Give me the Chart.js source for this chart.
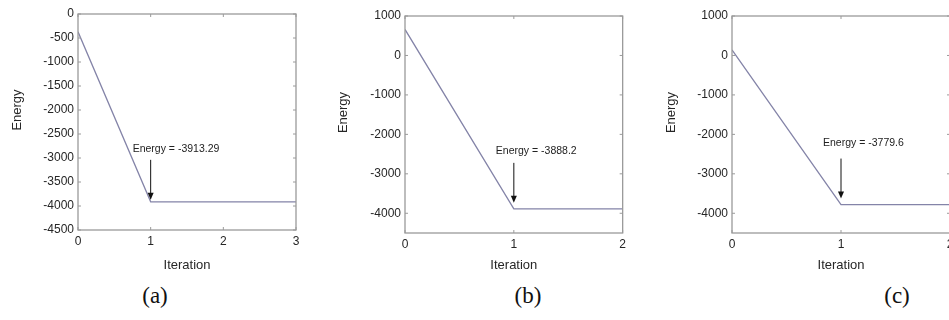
<!DOCTYPE html>
<html>
<head>
<meta charset="utf-8">
<script src="https://cdn.jsdelivr.net/npm/chart.js@4"></script>
<style>
  body { margin: 0; width: 949px; height: 320px; overflow: hidden; background: #fff; position: relative; }
  .panel { position: absolute; top: 0; height: 280px; }
  .cap { position: absolute; top: 283px; font-family: "Liberation Serif", "Times New Roman", serif; font-size: 23px; color: #111; transform: translateX(-50%); }
</style>
</head>
<body>
<div class="panel" style="left:0;width:310px"><canvas id="chartA"></canvas></div>
<div class="panel" style="left:310px;width:320px"><canvas id="chartB"></canvas></div>
<div class="panel" style="left:630px;width:330px"><canvas id="chartC"></canvas></div>
<div class="cap" style="left:155px">(a)</div>
<div class="cap" style="left:528px">(b)</div>
<div class="cap" style="left:897px">(c)</div>
<script>
// values
const iterA = [0, 1, 2, 3];
const energyA = [-370, -3913.29, -3913.29, -3913.29];
const iterB = [0, 1, 2];
const energyB = [660, -3888.2, -3888.2];
const iterC = [0, 1, 2];
const energyC = [140, -3779.6, -3779.6];
const noteA = 'Energy = -3913.29';
const noteB = 'Energy = -3888.2';
const noteC = 'Energy = -3779.6';
const yTicksA = [0, -500, -1000, -1500, -2000, -2500, -3000, -3500, -4000, -4500];
const yTicksBC = [1000, 0, -1000, -2000, -3000, -4000];

const frameColor = '#9a9a9a';
const textColor = '#262626';
const lineColor = '#8484a8';
const fontFamily = '"Liberation Sans", Arial, sans-serif';

// matlab style box with inward ticks, y title and arrow annotation
const boxPlugin = {
    id: 'box',
    afterDatasetsDraw(chart, args, opts) {
        const {ctx, chartArea: a, scales: {x, y}} = chart;
        ctx.save();
        ctx.strokeStyle = frameColor;
        ctx.lineWidth = 1.3;
        ctx.strokeRect(a.left, a.top, a.right - a.left, a.bottom - a.top);
        ctx.lineWidth = 1;
        x.ticks.forEach(t => {
            const px = x.getPixelForValue(t.value);
            ctx.beginPath();
            ctx.moveTo(px, a.bottom); ctx.lineTo(px, a.bottom - 3);
            ctx.moveTo(px, a.top); ctx.lineTo(px, a.top + 3);
            ctx.stroke();
        });
        y.ticks.forEach(t => {
            const py = y.getPixelForValue(t.value);
            ctx.beginPath();
            ctx.moveTo(a.left, py); ctx.lineTo(a.left + 3, py);
            ctx.moveTo(a.right, py); ctx.lineTo(a.right - 3, py);
            ctx.stroke();
        });

        // y axis title, sits a bit above the middle like the original
        ctx.save();
        ctx.translate(opts.titleX, (a.top + a.bottom) / 2 - 12);
        ctx.rotate(-Math.PI / 2);
        ctx.font = '13px ' + fontFamily;
        ctx.fillStyle = textColor;
        ctx.textAlign = 'center';
        ctx.textBaseline = 'middle';
        ctx.fillText('Energy', 0, 0);
        ctx.restore();

        // arrow pointing to the value at iteration 1
        const data = chart.data.datasets[0].data[1];
        const px = x.getPixelForValue(data.x);
        const py = y.getPixelForValue(data.y);
        const tip = py - opts.gap;
        const tail = tip - opts.len;
        ctx.strokeStyle = '#111';
        ctx.fillStyle = '#111';
        ctx.lineWidth = 1;
        ctx.beginPath();
        ctx.moveTo(px, tail); ctx.lineTo(px, tip - 6);
        ctx.stroke();
        ctx.beginPath();
        ctx.moveTo(px - 3, tip - 7); ctx.lineTo(px + 3, tip - 7); ctx.lineTo(px, tip);
        ctx.closePath();
        ctx.fill();
        ctx.font = '10.5px ' + fontFamily;
        ctx.fillStyle = '#222';
        ctx.textBaseline = 'middle';
        ctx.textAlign = 'left';
        ctx.fillText(opts.text, px - 18, tail - opts.textGap);
        ctx.restore();
    }
};

function makePanel(id, iters, energies, note, yTicks, cfg) {
    const points = iters.map((v, i) => ({x: v, y: energies[i]}));
    const font = {family: fontFamily, size: 12};
    const titleFont = {family: fontFamily, size: 13};
    return new Chart(document.getElementById(id), {
        type: 'line',
        data: {
            datasets: [{
                data: points,
                borderColor: lineColor,
                borderWidth: 1.3,
                pointRadius: 0,
                tension: 0
            }]
        },
        options: {
            responsive: true,
            maintainAspectRatio: false,
            animation: false,
            layout: {padding: {top: cfg.top, right: cfg.right, left: 0, bottom: 0}},
            plugins: {
                legend: {display: false},
                tooltip: {enabled: false},
                box: {text: note, gap: cfg.gap, len: 40, textGap: cfg.textGap, titleX: cfg.titleX}
            },
            scales: {
                x: {
                    type: 'linear',
                    min: 0,
                    max: iters[iters.length - 1],
                    grid: {display: false, drawTicks: false},
                    border: {display: false},
                    ticks: {stepSize: 1, color: textColor, font: font, padding: 4, maxRotation: 0},
                    title: {display: true, text: 'Iteration', color: textColor, font: titleFont, padding: {top: 0, bottom: 7}},
                    afterFit: s => { s.height = 280 - cfg.bottom; }
                },
                y: {
                    min: -4500,
                    max: cfg.ymax,
                    grid: {display: false, drawTicks: false},
                    border: {display: false},
                    ticks: {color: textColor, font: font, padding: 4, callback: v => String(v)},
                    afterBuildTicks: s => { s.ticks = yTicks.map(v => ({value: v})); },
                    afterFit: s => { s.width = cfg.left; }
                }
            }
        },
        plugins: [boxPlugin]
    });
}

makePanel('chartA', iterA, energyA, noteA, yTicksA, {left: 78, right: 14, top: 14, bottom: 230, ymax: 0, titleX: 17, gap: 2, textGap: 11});
makePanel('chartB', iterB, energyB, noteB, yTicksBC, {left: 95, right: 6, top: 16, bottom: 233, ymax: 1000, titleX: 33, gap: 6, textGap: 12});
makePanel('chartC', iterC, energyC, noteC, yTicksBC, {left: 102, right: 10, top: 16, bottom: 233, ymax: 1000, titleX: 41, gap: 6, textGap: 15});
</script>
</body>
</html>
